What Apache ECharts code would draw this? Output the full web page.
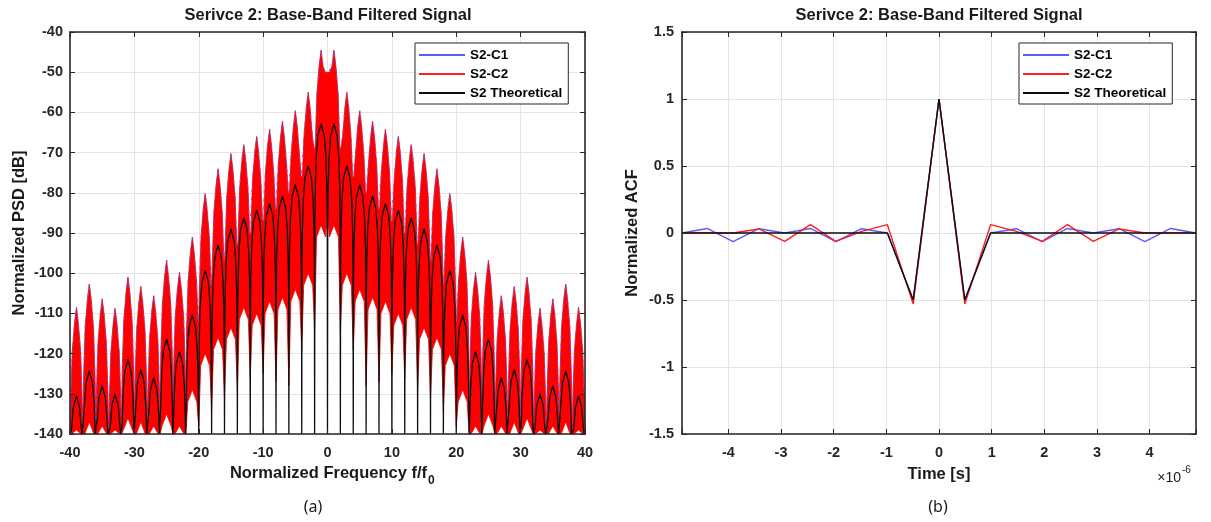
<!DOCTYPE html>
<html><head><meta charset="utf-8">
<script src="https://cdn.jsdelivr.net/npm/echarts@6/dist/echarts.min.js"></script>
<style>html,body{margin:0;padding:0;background:#fff}#main{width:1211px;height:522px}</style>
</head><body><div id="main"></div>
<script>
// ================= DATA =================
// (a) PSD: spectral nulls (even multiples) and lobe centres (odd multiples) of f/f0
const psdNullFreq = [-40,-38,-36,-34,-32,-30,-28,-26,-24,-22,-20,-18,-16,-14,-12,-10,-8,-6,-4,-2,0,2,4,6,8,10,12,14,16,18,20,22,24,26,28,30,32,34,36,38,40];
const psdLobeFreq = [-39,-37,-35,-33,-31,-29,-27,-25,-23,-21,-19,-17,-15,-13,-11,-9,-7,-5,-3,-1,1,3,5,7,9,11,13,15,17,19,21,23,25,27,29,31,33,35,37,39];
// S2 Theoretical: lobe peak level [dB]
const theoPeakDb = [-130.5,-124.3,-128,-130,-121.5,-124,-126,-116.4,-119.5,-110.4,-99.3,-93,-89,-86.2,-84.3,-82.7,-80.8,-78,-73.3,-62.8,
                    -62.8,-73.3,-78,-80.8,-82.7,-84.3,-86.2,-89,-93,-99.3,-110.4,-119.5,-116.4,-126,-124,-121.5,-130,-128,-124.3,-130.5];
// S2-C2 (measured) : lobe top level [dB]
const c2PeakDb = [-108.5,-102.7,-106.4,-108.7,-101,-103.3,-105.6,-96.8,-99.8,-91,-80.2,-74,-70.2,-68,-66,-64.2,-62.2,-59.6,-55,-44.5,
                  -44.5,-55,-59.6,-62.2,-64.2,-66,-68,-70.2,-74,-80.2,-91,-99.8,-96.8,-105.6,-103.3,-101,-108.7,-106.4,-102.7,-108.5];
// S2-C2: bottom of the white gap between two lobes (at each null) [dB]
const c2ValleyDb = [-140,-139,-137,-139,-138,-136,-137,-136,-137,-138,-112,-103,-97,-93,-90,-87,-84,-80,-76,-69,-50,
                    -69,-76,-80,-84,-87,-90,-93,-97,-103,-112,-138,-137,-136,-137,-136,-138,-139,-137,-139,-140];
// S2-C2: lowest red level reached at each null [dB]
const c2IcicleDb = [-140,-140,-140,-140,-140,-140,-140,-140,-140,-140,-138,-134,-131,-129,-126,-125,-127,-128,-119,-114,-85,
                    -114,-119,-128,-127,-125,-126,-129,-131,-134,-138,-140,-140,-140,-140,-140,-140,-140,-140,-140,-140];
// S2-C2: top of the white arch under each lobe [dB]
const c2ArchDb = [-139,-137,-138,-139,-136,-137,-138,-135,-138,-129,-120,-116,-113.5,-108.5,-110,-107,-106,-104,-100,-88,
                  -88,-100,-104,-106,-107,-110,-108.5,-113.5,-116,-120,-129,-138,-135,-138,-137,-136,-139,-138,-137,-139];
// shape of a theoretical lobe: [distance from null, dB below lobe peak]
const theoArchProfile = [[0.04,-24],[0.1,-16],[0.25,-8.3],[0.5,-3]];
// shape of an S2-C2 lobe top: [distance from null, dB below lobe peak]
const c2LobeProfile = [[0.1,-24],[0.35,-11],[0.7,-4]];
// shoulder of the white arches under S2-C2: [distance from null, dB below arch top]
const c2ArchShoulder = [0.3,-3];
const psdFloorDb = -140;

// (b) ACF, time in microseconds (axis multiplier x10^-6)
const acfTimeUs = [-4.88,-4.40,-3.91,-3.42,-2.93,-2.44,-1.96,-1.47,-0.98,-0.49,0,0.49,0.98,1.47,1.96,2.44,2.93,3.42,3.91,4.40,4.88];
const acfC1 = [0,0.034,-0.064,0.032,0,0.034,-0.064,0.032,0,-0.5,1,-0.5,0,0.032,-0.064,0.034,0,0.032,-0.064,0.034,0];
const acfC2 = [0,0,0,0.03,-0.062,0.062,-0.062,0.012,0.062,-0.53,1,-0.53,0.062,0.012,-0.062,0.062,-0.062,0.03,0,0,0];
const acfTheoTimeUs = [-4.88,-0.98,-0.49,0,0.49,0.98,4.88];
const acfTheo = [0,0,-0.5,1,-0.5,0,0];

const seriesNames = ['S2-C1','S2-C2','S2 Theoretical'];
const titleText = 'Serivce 2: Base-Band Filtered Signal';

// ================= build tables =================
const clampF = v => Math.max(psdFloorDb, v);
const theoPts = [];
psdLobeFreq.forEach((c, i) => {
  const p = theoPeakDb[i], e0 = c - 1, e1 = c + 1;
  theoPts.push([e0, psdFloorDb]);
  theoArchProfile.forEach(([d, dr]) => theoPts.push([e0 + d, clampF(p + dr)]));
  theoPts.push([c, p]);
  theoArchProfile.slice().reverse().forEach(([d, dr]) => theoPts.push([e1 - d, clampF(p + dr)]));
});
theoPts.push([psdNullFreq[psdNullFreq.length - 1], psdFloorDb]);

const upper = [], lower = [];
psdNullFreq.forEach((e, i) => {
  upper.push([e, c2ValleyDb[i]]);
  lower.push([e, c2IcicleDb[i]]);
  if (i < psdLobeFreq.length) {
    const c = psdLobeFreq[i], p = c2PeakDb[i], uL = c2ValleyDb[i], uR = c2ValleyDb[i + 1];
    c2LobeProfile.forEach(([d, dr]) => upper.push([e + d, Math.max(p + dr, uL)]));
    upper.push([c, p]);
    c2LobeProfile.slice().reverse().forEach(([d, dr]) => upper.push([e + 2 - d, Math.max(p + dr, uR)]));
    lower.push([e + c2ArchShoulder[0], clampF(c2ArchDb[i] + c2ArchShoulder[1])]);
    lower.push([c, c2ArchDb[i]]);
    lower.push([e + 2 - c2ArchShoulder[0], clampF(c2ArchDb[i] + c2ArchShoulder[1])]);
  }
});
const bandPts = upper.concat(lower.slice().reverse());

const acfC1Pts = acfTimeUs.map((t, i) => [t, acfC1[i]]);
const acfC2Pts = acfTimeUs.map((t, i) => [t, acfC2[i]]);
const acfTheoPts = acfTheoTimeUs.map((t, i) => [t, acfTheo[i]]);

// ================= chart =================
const FONT = '"Liberation Sans", Arial, Helvetica, sans-serif';
const DARK = '#262626';
const GRIDC = '#e4e4e4';
const tickLbl = {fontFamily: FONT, fontWeight: 'bold', fontSize: 14.5, color: DARK};

function axisSet(gridIndex, range, labelMargin, pos) {
  const base = Object.assign({type: 'value', gridIndex: gridIndex}, range);
  const main = Object.assign({}, base, {
    position: pos[0],
    axisLine: {show: false, onZero: false}, axisTick: {show: false},
    axisLabel: Object.assign({margin: labelMargin,
      formatter: v => (Math.abs(v - Math.round(v * 2) / 2) < 1e-6 ? String(Math.round(v * 2) / 2) : '')}, tickLbl),
    splitLine: {show: true, lineStyle: {color: GRIDC, width: 1}}
  });
  const ov = p => Object.assign({}, base, {
    position: p, z: 10,
    axisLine: {show: true, onZero: false, lineStyle: {color: DARK, width: 1.6}},
    axisTick: {show: true, inside: true, length: 5, lineStyle: {color: DARK, width: 1}},
    axisLabel: {show: false}, splitLine: {show: false}
  });
  return [main, ov(pos[0]), ov(pos[1])];
}

const xAxes = [].concat(
  axisSet(0, {min: -40, max: 40, interval: 10}, 11, ['bottom', 'top']),
  axisSet(1, {min: -4.88, max: 4.88, splitNumber: 10}, 11, ['bottom', 'top'])
);
const yAxes = [].concat(
  axisSet(0, {min: -140, max: -40, interval: 10}, 7, ['left', 'right']),
  axisSet(1, {min: -1.5, max: 1.5, interval: 0.5}, 8, ['left', 'right'])
);

const C1 = '#5b5bff', C2 = '#ff1f1f', TH = '#0d0d0d';
const legendBase = {
  orient: 'vertical', top: 43, backgroundColor: '#fff', borderColor: DARK, borderWidth: 1, borderRadius: 0,
  padding: [4, 6, 3, 4], itemGap: 3, itemWidth: 46, itemHeight: 2, icon: 'rect', selectedMode: false, z: 20,
  textStyle: {fontFamily: FONT, fontWeight: 'bold', fontSize: 13.5, color: '#000', lineHeight: 16},
  data: [
    {name: seriesNames[0], icon: 'rect', itemStyle: {color: C1, borderWidth: 0}},
    {name: seriesNames[1], icon: 'rect', itemStyle: {color: C2, borderWidth: 0}},
    {name: seriesNames[2], icon: 'rect', itemStyle: {color: TH, borderWidth: 0}}
  ]
};

const txt = (x, y, text, font, align, vAlign, extra) => Object.assign({
  type: 'text', x: x, y: y, silent: true,
  style: {text: text, font: font, fill: '#1a1a1a', textAlign: align, textVerticalAlign: vAlign}
}, extra || {});

const option = {
  animation: false,
  backgroundColor: '#fff',
  grid: [
    {left: 70, right: 626, top: 32, bottom: 88, containLabel: false},
    {left: 682, right: 15, top: 32, bottom: 88, containLabel: false}
  ],
  xAxis: xAxes,
  yAxis: yAxes,
  legend: [
    Object.assign({}, legendBase, {left: 415}),
    Object.assign({}, legendBase, {left: 1019})
  ],
  series: [
    // (b) ACF
    {type: 'line', name: seriesNames[0], xAxisIndex: 3, yAxisIndex: 3, data: acfC1Pts, symbol: 'none',
     color: C1, lineStyle: {color: C1, width: 1.4}, z: 3},
    {type: 'line', name: seriesNames[1], xAxisIndex: 3, yAxisIndex: 3, data: acfC2Pts, symbol: 'none',
     color: C2, lineStyle: {color: C2, width: 1.4}, z: 4},
    {type: 'line', name: seriesNames[2], xAxisIndex: 3, yAxisIndex: 3, data: acfTheoPts, symbol: 'none',
     color: TH, lineStyle: {color: TH, width: 1.4}, z: 5},
    // (a) PSD
    {type: 'custom', name: 'S2-C2 spectrum', xAxisIndex: 0, yAxisIndex: 0, data: bandPts, silent: true, z: 2,
     encode: {x: 0, y: 1},
     renderItem: (params, api) => {
       if (params.dataIndex !== 0) return null;
       return {type: 'polygon', shape: {points: bandPts.map(p => api.coord(p))},
               style: {fill: '#ff0000', stroke: '#f20000', lineWidth: 0.8}};
     }},
    {type: 'line', name: seriesNames[0], xAxisIndex: 0, yAxisIndex: 0, data: upper, symbol: 'none',
     color: C1, lineStyle: {color: C1, width: 1.2, type: [3, 5], opacity: 0.75}, z: 3},
    {type: 'line', name: seriesNames[2], xAxisIndex: 0, yAxisIndex: 0, data: theoPts, symbol: 'none',
     color: TH, lineStyle: {color: TH, width: 1.3}, z: 4}
  ],
  graphic: [
    txt(328, 15, titleText, 'bold 16.5px ' + FONT, 'center', 'middle'),
    txt(939, 15, titleText, 'bold 16.5px ' + FONT, 'center', 'middle'),
    txt(19, 233, 'Normalized PSD [dB]', 'bold 16.5px ' + FONT, 'center', 'middle', {rotation: Math.PI / 2}),
    txt(632, 233, 'Normalized ACF', 'bold 16.5px ' + FONT, 'center', 'middle', {rotation: Math.PI / 2}),
    txt(427, 473, 'Normalized Frequency f/f', 'bold 16.5px ' + FONT, 'right', 'middle'),
    txt(428, 481, '0', 'bold 12px ' + FONT, 'left', 'middle'),
    txt(939, 474, 'Time [s]', 'bold 16.5px ' + FONT, 'center', 'middle'),
    txt(1181, 478, '\u00d710', '14px ' + FONT, 'right', 'middle'),
    txt(1182, 470, '-6', '10px ' + FONT, 'left', 'middle'),
    txt(313, 507, '(a)', '16px "Noto Sans", "Open Sans", sans-serif', 'center', 'middle'),
    txt(938, 507, '(b)', '16px "Noto Sans", "Open Sans", sans-serif', 'center', 'middle')
  ]
};

const chart = echarts.init(document.getElementById('main'), null, {renderer: 'canvas'});
chart.setOption(option);
</script>
</body></html>
